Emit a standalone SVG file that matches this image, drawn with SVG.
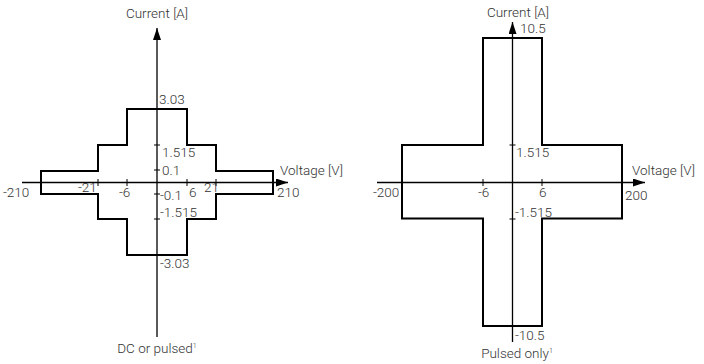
<svg xmlns="http://www.w3.org/2000/svg" width="704" height="364" viewBox="0 0 704 364">
<defs>
<marker id="arr" viewBox="0 0 12 8" refX="12" refY="4" markerWidth="12" markerHeight="8" markerUnits="userSpaceOnUse" orient="auto">
<path d="M0,0 L12,4 L0,8 Z" fill="#000"/>
</marker>
</defs>
<style>
text{font-family:Roboto,"Liberation Sans",sans-serif;font-weight:300;font-size:13.5px;fill:#333}
.sup{font-size:7px}
.env{fill:none;stroke:#000;stroke-width:2}
.ax{fill:none;stroke:#000;stroke-width:1.3}
.tick{fill:none;stroke:#000;stroke-width:1}
.m{text-anchor:middle}
</style>
<rect width="704" height="364" fill="#fff"/>
<g id="left-chart">
<g id="left-envelope">
<path class="env" d="M41,171 H98 V145 H127 V109 H187 V145 H216 V171 H273 V194 H216 V219 H187 V255 H127 V219 H98 V194 H41 Z"/>
</g>
<g id="left-axes">
<line class="ax" x1="22" y1="182.5" x2="288" y2="182.5" marker-end="url(#arr)"/>
<line class="ax" x1="157" y1="337" x2="157" y2="28" marker-end="url(#arr)"/>
<path class="tick" d="M154,145 H160 M154,170 H160 M154,194 H160 M154,219 H160 M98,179 V186 M127,179 V186 M187,179 V186 M216,179 V186"/>
</g>
<g id="left-labels">
<text class="m" x="157" y="18">Current [A]</text>
<text x="159" y="104">3.03</text>
<text x="162" y="157">1.515</text>
<text x="162" y="175">0.1</text>
<text x="280" y="175">Voltage [V]</text>
<text x="3" y="197">-210</text>
<text x="78" y="192">-21</text>
<text x="119" y="197">-6</text>
<text x="160" y="200">-0.1</text>
<text x="189" y="197">6</text>
<text x="204" y="192">21</text>
<text x="277" y="197">210</text>
<text x="160" y="217">-1.515</text>
<text x="160" y="268">-3.03</text>
<text class="m" x="157" y="353">DC or pulsed<tspan class="sup" dy="-5">1</tspan></text>
</g>
</g>
<g id="right-chart">
<g id="right-envelope">
<path class="env" d="M402,145 H483 V38 H542 V145 H622 V218.5 H542 V326 H483 V218.5 H402 Z"/>
</g>
<g id="right-axes">
<line class="ax" x1="377" y1="182.5" x2="645" y2="182.5" marker-end="url(#arr)"/>
<line class="ax" x1="512.5" y1="342" x2="512.5" y2="22" marker-end="url(#arr)"/>
<path class="tick" d="M509.5,145 H515.5 M509.5,219 H515.5 M483,179 V186 M542,179 V186"/>
</g>
<g id="right-labels">
<text class="m" x="518" y="16.5">Current [A]</text>
<text x="520" y="33">10.5</text>
<text x="516" y="157">1.515</text>
<text x="632" y="175">Voltage [V]</text>
<text x="373" y="197">-200</text>
<text x="478" y="197">-6</text>
<text x="539" y="197">6</text>
<text x="625" y="200">200</text>
<text x="515" y="217">-1.515</text>
<text x="515" y="340">-10.5</text>
<text class="m" x="517" y="358">Pulsed only<tspan class="sup" dy="-5">1</tspan></text>
</g>
</g>
</svg>
